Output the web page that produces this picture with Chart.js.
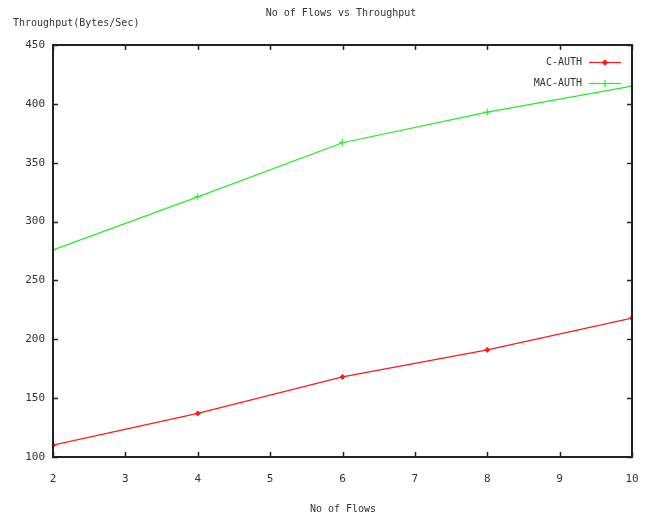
<!DOCTYPE html>
<html>
<head>
<meta charset="utf-8">
<script src="https://cdn.jsdelivr.net/npm/chart.js@4"></script>
<style>
  html, body { margin: 0; padding: 0; background: #fff; }
  #wrap { width: 652px; height: 521px; }
</style>
</head>
<body>
<div id="wrap"><canvas id="lineChart" width="652" height="521"></canvas></div>
<script>
// values
const flows = [2, 4, 6, 8, 10];
const cAuth = [110, 137, 168, 191, 218];
const macAuth = [276, 321, 367, 393, 415];
const seriesNames = ['C-AUTH', 'MAC-AUTH'];
const chartTitle = 'No of Flows vs Throughput';
const xTitle = 'No of Flows';
const yTitle = 'Throughput(Bytes/Sec)';

const font = 'DejaVu Sans Mono';
const textColor = '#333';
const axisColor = '#222';

// gnuplot style frame, inward ticks, titles and legend
const gnuplotLook = {
  id: 'gnuplotLook',
  afterDatasetsDraw(chart) {
    const { ctx, chartArea: a, scales } = chart;
    ctx.save();
    ctx.strokeStyle = axisColor;
    ctx.lineWidth = 2;
    ctx.strokeRect(a.left, a.top, a.right - a.left, a.bottom - a.top);

    ctx.lineWidth = 1.5;
    ctx.beginPath();
    scales.x.ticks.forEach(t => {
      const px = Math.round(scales.x.getPixelForValue(t.value)) + 0.5;
      ctx.moveTo(px, a.bottom); ctx.lineTo(px, a.bottom - 5);
      ctx.moveTo(px, a.top); ctx.lineTo(px, a.top + 5);
    });
    scales.y.ticks.forEach(t => {
      const py = Math.round(scales.y.getPixelForValue(t.value)) + 0.5;
      ctx.moveTo(a.left, py); ctx.lineTo(a.left + 5, py);
      ctx.moveTo(a.right, py); ctx.lineTo(a.right - 5, py);
    });
    ctx.stroke();

    // titles
    ctx.fillStyle = textColor;
    ctx.font = '10px "' + font + '"';
    ctx.textBaseline = 'middle';
    ctx.textAlign = 'center';
    ctx.fillText(chartTitle, 341, 13);
    ctx.fillText(xTitle, 343, 509);
    ctx.textAlign = 'left';
    ctx.fillText(yTitle, 13, 23);

    // legend: text then line sample with marker
    chart.data.datasets.forEach((ds, i) => {
      const y = 62 + i * 21;
      ctx.textAlign = 'right';
      ctx.fillStyle = textColor;
      ctx.fillText(ds.label, 582, y);
      ctx.strokeStyle = ds.borderColor;
      ctx.fillStyle = ds.borderColor;
      ctx.lineWidth = 1.2;
      ctx.beginPath();
      ctx.moveTo(589, y + 0.5); ctx.lineTo(621, y + 0.5);
      ctx.stroke();
      Chart.helpers.drawPoint(ctx, {
        pointStyle: ds.pointStyle, radius: ds.pointRadius, borderWidth: 1
      }, 605, y + 0.5);
    });
    ctx.restore();
  }
};

new Chart(document.getElementById('lineChart'), {
  type: 'line',
  data: {
    datasets: [
      {
        label: seriesNames[0],
        data: flows.map((f, i) => ({ x: f, y: cAuth[i] })),
        borderColor: '#ff1a1a',
        backgroundColor: '#ff1a1a',
        borderWidth: 1.2,
        pointStyle: 'rectRot',
        pointRadius: 2.5,
        pointBorderWidth: 1,
        lineTension: 0,
        fill: false,
      },
      {
        label: seriesNames[1],
        data: flows.map((f, i) => ({ x: f, y: macAuth[i] })),
        borderColor: '#22ee22',
        backgroundColor: '#22ee22',
        borderWidth: 1.2,
        pointStyle: 'cross',
        pointRadius: 3.5,
        pointBorderWidth: 1,
        lineTension: 0,
        fill: false,
      },
    ],
  },
  options: {
    responsive: false,
    animation: false,
    layout: { padding: { left: 0, right: 20, top: 45, bottom: 0 } },
    plugins: {
      legend: { display: false },
      title: { display: false },
      tooltip: { enabled: false },
    },
    scales: {
      x: {
        type: 'linear',
        min: 2,
        max: 10,
        grid: { display: false },
        border: { display: false },
        ticks: {
          stepSize: 1,
          padding: 8,
          color: textColor,
          font: { family: font, size: 11 },
        },
        afterFit: s => { s.height = 64; },
      },
      y: {
        min: 100,
        max: 450,
        grid: { display: false },
        border: { display: false },
        ticks: {
          stepSize: 50,
          padding: 0,
          color: textColor,
          font: { family: font, size: 11 },
        },
        afterFit: s => { s.width = 53; },
      },
    },
  },
  plugins: [gnuplotLook],
});
</script>
</body>
</html>
